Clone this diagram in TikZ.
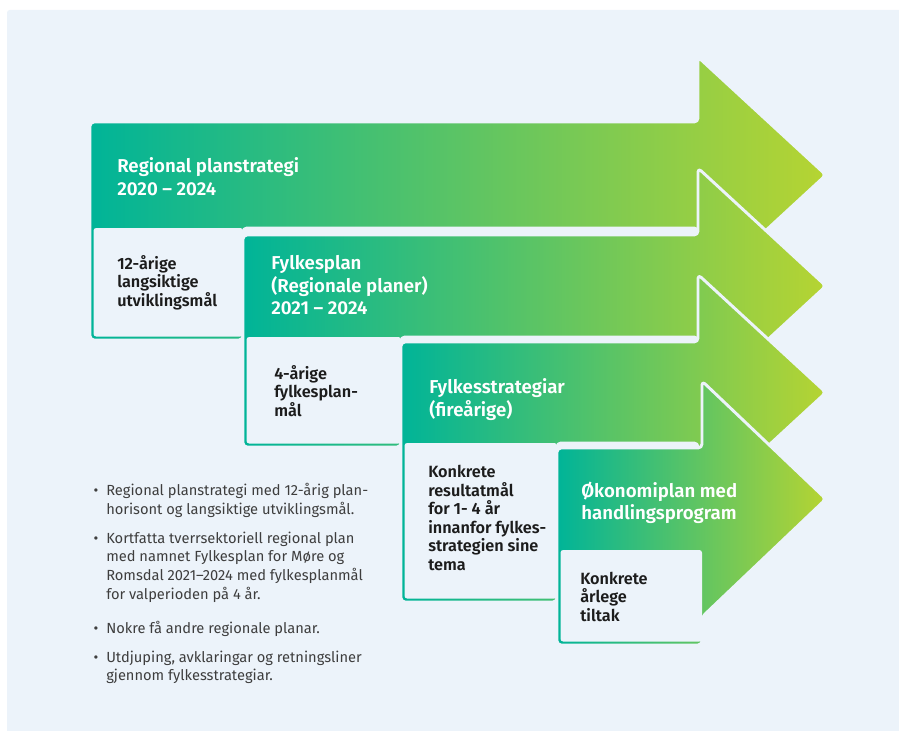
\documentclass[tikz,border=0pt]{standalone}
\usepackage{fontspec}
\setmainfont{Fira Sans}[BoldFont={Fira Sans SemiBold}]
\definecolor{panelbg}{RGB}{236,243,250}
\definecolor{planteal}{RGB}{0,180,152}
\definecolor{planlime}{RGB}{182,212,50}
\definecolor{darktext}{RGB}{28,28,28}
\definecolor{greytext}{RGB}{62,62,62}
\newcommand\listdot{\makebox[0pt][r]{\textbullet\hspace{6pt}}}
\begin{document}
\begin{tikzpicture}[x=0.75pt,y=-0.75pt,line join=round,
    planarrow/.style={left color=planteal,right color=planlime,draw=panelbg,line width=2.2pt,rounded corners=3pt},
    goalbox/.style={fill=panelbg,rounded corners=2pt},
    headtext/.style={anchor=north west,inner sep=0pt,align=left,text=white,font=\bfseries\fontsize{14}{16.9}\selectfont},
    goaltext/.style={anchor=north west,inner sep=0pt,align=left,text=darktext,font=\bfseries\fontsize{12.2}{13.9}\selectfont},
    listtext/.style={anchor=north west,inner sep=0pt,align=left,text=greytext,font=\fontsize{11}{14}\selectfont}]
  \def\nk{698}
  \def\tip{826}
  \useasboundingbox (0,0) rectangle (899,731);
  % bakgrunn
  \fill[panelbg,rounded corners=2pt] (7,10) rectangle (905,737);
  % pilene 1--3 med maalboks under
  \foreach \xa/\ta/\ba/\xb/\yb in {90/122/228/243/340, 243/235/337/401/447, 401/342/443/557/602}{
    \pgfmathsetmacro\ym{(\ta+\ba)/2}
    \shadedraw[planarrow] (\xa,\ta) -- (\nk,\ta) -- (\nk,\ym-118) -- (\tip,\ym) -- (\nk,\ym+118)
      -- (\nk,\ba) -- (\xb,\ba) -- (\xb,\yb) -- (\xa,\yb) -- cycle;
    \fill[goalbox] (\xa+3.5,\ba) rectangle (\xb,\yb-3.5);
  }
  % pil 4
  \shadedraw[planarrow] (557,448) -- (702,448) -- (702,381) -- (\tip,499) -- (702,617)
    -- (702,645) -- (557,645) -- cycle;
  \fill[goalbox] (560.5,550) rectangle (702,641.5);
  % tekst i pilene
  \node[headtext] (head1) at (117,157.5) {Regional planstrategi\\2020 – 2024};
  \node[goaltext] (goal1) at (117,255) {12-årige\\langsiktige\\utviklingsmål};
  \node[headtext] (head2) at (271,255.5) {Fylkesplan\\(Regionale planer)\\2021 – 2024};
  \node[goaltext] (goal2) at (274,365) {4-årige\\fylkesplan-\\mål};
  \node[headtext] (head3) at (429,378.5) {Fylkesstrategiar\\(fireårige)};
  \node[goaltext] (goal3) at (428,465) {Konkrete\\resultatmål\\for 1- 4 år\\innanfor fylkes-\\strategien sine\\tema};
  \node[headtext] (head4) at (581,481.5) {Økonomiplan med\\handlingsprogram};
  \node[goaltext] (goal4) at (580,571.5) {Konkrete\\årlege\\tiltak};
  % punktliste
  \node[listtext] (item1) at (106,483) {\listdot Regional planstrategi med 12-årig plan-\\horisont og langsiktige utviklingsmål.};
  \node[listtext] (item2) at (106,531.5) {\listdot Kortfatta tverrsektoriell regional plan\\med namnet Fylkesplan for Møre og\\Romsdal 2021–2024 med fylkesplanmål\\for valperioden på 4 år.};
  \node[listtext] (item3) at (106,620.5) {\listdot Nokre få andre regionale planar.};
  \node[listtext] (item4) at (106,650.5) {\listdot Utdjuping, avklaringar og retningsliner\\gjennom fylkesstrategiar.};
\end{tikzpicture}
\end{document}
